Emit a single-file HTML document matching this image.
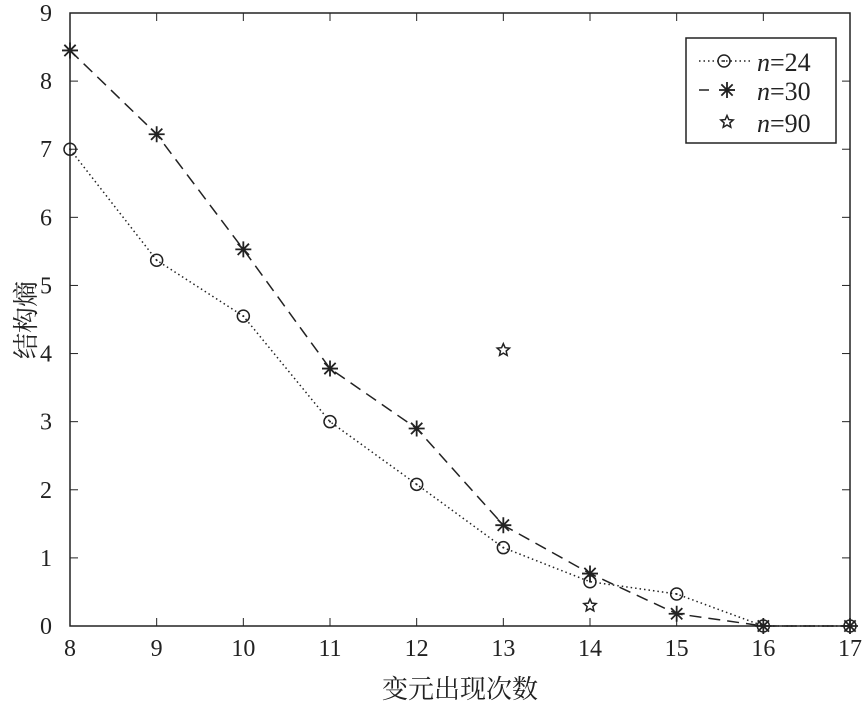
<!DOCTYPE html>
<html><head><meta charset="utf-8"><style>
body{margin:0;background:#fff}
svg text{font-family:"Liberation Serif","Noto Serif CJK SC",serif;fill:#222}
</style></head><body>
<svg id="c" width="867" height="709"></svg>
<script>
const categories=[8,9,10,11,12,13,14,15,16,17];
const seriesN24=[7,5.37,4.55,3.0,2.08,1.15,0.65,0.47,0,0];
const seriesN30=[8.45,7.22,5.53,3.78,2.9,1.48,0.77,0.18,0,0];
const n90X=[13,14];
const n90Y=[4.05,0.3];
const xTicks=[8,9,10,11,12,13,14,15,16,17];
const yTicks=[0,1,2,3,4,5,6,7,8,9];
const L=70,R=850,T=13,B=626;
const sx=v=>L+(v-8)/9*(R-L);
const sy=v=>B-v/9*(B-T);
const svg=document.getElementById('c');
const NS='http://www.w3.org/2000/svg';
function mk(t,a,p){const e=document.createElementNS(NS,t);for(const k in a)e.setAttribute(k,a[k]);(p||svg).appendChild(e);return e;}
const frame=mk('rect',{x:L,y:T,width:R-L,height:B-T,fill:'none',stroke:'#222','stroke-width':1.5});


xTicks.forEach(v=>{const x=sx(v);mk('line',{x1:x,x2:x,y1:B,y2:B-8,stroke:'#222'});mk('line',{x1:x,x2:x,y1:T,y2:T+8,stroke:'#222'});
const t=mk('text',{x:x,y:B+30,'text-anchor':'middle','font-size':24});t.textContent=v;

});
yTicks.forEach(v=>{const y=sy(v);mk('line',{x1:L,x2:L+8,y1:y,y2:y,stroke:'#222'});mk('line',{x1:R,x2:R-8,y1:y,y2:y,stroke:'#222'});
const t=mk('text',{x:L-18,y:y+8,'text-anchor':'end','font-size':24});t.textContent=v;

});
const xt=mk('text',{x:460,y:698,'text-anchor':'middle','font-size':26});xt.textContent='变元出现次数';


const yt=mk('text',{x:0,y:0,'text-anchor':'middle','font-size':26,transform:'translate(35,320) rotate(-90)'});yt.textContent='结构熵';


function circle(x,y,g){mk('circle',{cx:x,cy:y,r:6,fill:'none',stroke:'#222','stroke-width':1.5},g);mk('circle',{cx:x,cy:y,r:1,fill:'#222'},g);}
function star(x,y,g){const d=[];for(let i=0;i<4;i++){const a=i*Math.PI/4;d.push(`M${x-8*Math.cos(a)},${y-8*Math.sin(a)}L${x+8*Math.cos(a)},${y+8*Math.sin(a)}`);}mk('path',{d:d.join(''),stroke:'#222','stroke-width':1.8},g);}
function pent(x,y,g){let p=[];for(let i=0;i<10;i++){const r=i%2?3:6.5,a=-Math.PI/2+i*Math.PI/5;p.push((x+r*Math.cos(a))+','+(y+r*Math.sin(a)));}mk('polygon',{points:p.join(' '),fill:'none',stroke:'#222','stroke-width':1.5},g);}
const g1=mk('g',{});
mk('polyline',{points:categories.map((c,i)=>sx(c)+','+sy(seriesN24[i])).join(' '),fill:'none',stroke:'#222','stroke-width':1.5,'stroke-dasharray':'1.5 3'},g1);
categories.forEach((c,i)=>circle(sx(c),sy(seriesN24[i]),g1));
const g2=mk('g',{});
mk('polyline',{points:categories.map((c,i)=>sx(c)+','+sy(seriesN30[i])).join(' '),fill:'none',stroke:'#222','stroke-width':1.5,'stroke-dasharray':'12 7'},g2);
categories.forEach((c,i)=>star(sx(c),sy(seriesN30[i]),g2));
const g3=mk('g',{});
n90X.forEach((c,i)=>pent(sx(c),sy(n90Y[i]),g3));
const lg=mk('g',{});
mk('rect',{x:686,y:38,width:150,height:105,fill:'#fff',stroke:'#222','stroke-width':1.5},lg);
mk('line',{x1:699,x2:750,y1:61,y2:61,stroke:'#222','stroke-width':1.5,'stroke-dasharray':'1.5 3'},lg);circle(724,61,lg);
mk('line',{x1:699,x2:750,y1:90,y2:90,stroke:'#222','stroke-width':1.5,'stroke-dasharray':'10 16'},lg);star(727,90,lg);
pent(727,122,lg);
[['24',61],['30',90],['90',122]].forEach(([n,y])=>{const t=mk('text',{x:757,y:y+10,'font-size':26},lg);t.innerHTML='<tspan font-style="italic">n</tspan>='+n;});
</script></body></html>
